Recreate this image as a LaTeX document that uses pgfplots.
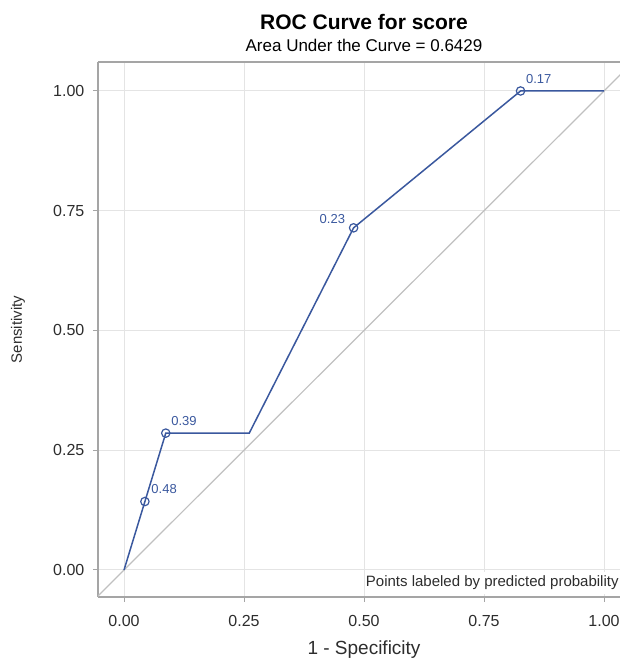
\documentclass[border=0pt]{standalone}
\usepackage{fontspec}
\setmainfont{Liberation Sans}
\usepackage{pgfplots}
\pgfplotsset{compat=1.18}
\usetikzlibrary{calc}

\definecolor{rocblue}{RGB}{58,88,158}
\definecolor{framegray}{RGB}{165,165,165}
\definecolor{gridgray}{RGB}{228,228,228}
\definecolor{diaggray}{RGB}{192,192,192}
\definecolor{textgray}{RGB}{45,45,45}

\begin{document}
\begin{tikzpicture}
\begin{axis}[
    scale only axis,
    width=261pt, height=267.5pt,
    xmin=-0.0542, xmax=1.0333,
    ymin=-0.0564, ymax=1.0605,
    axis x line=box, axis y line=left,
    axis line style={-, framegray, line width=0.6pt},
    xtick={0,0.25,0.5,0.75,1},
    ytick={0,0.25,0.5,0.75,1},
    xtick pos=left,
    tick align=outside,
    major tick length=2.5pt,
    tick style={framegray, line width=0.5pt},
    grid=major,
    major grid style={gridgray, line width=0.5pt},
    ticklabel style={font=\fontsize{8}{9}\selectfont, text=textgray},
    /pgf/number format/fixed,
    /pgf/number format/fixed zerofill,
    /pgf/number format/precision=2,
    /pgf/number format/assume math mode=true,
    xticklabel style={anchor=center, yshift=-9.5pt},
    yticklabel style={anchor=east, xshift=-0.8pt},
    xlabel={1 - Specificity},
    ylabel={Sensitivity},
    xlabel style={at={(rel axis cs:0.5096,-0.0953)}, anchor=center, yshift=-1pt,
        font=\fontsize{9.5}{10}\selectfont, text=textgray},
    ylabel style={at={(rel axis cs:-0.1533,0.5)}, anchor=center,
        font=\fontsize{7.5}{9}\selectfont, text=textgray},
]
% chance line
\addplot[diaggray, line width=0.6pt] coordinates {(-0.1,-0.1) (1.1,1.1)};
% ROC curve
\addplot[rocblue, line width=0.75pt] coordinates {
    (0,0) (0.0435,0.1429) (0.0870,0.2857) (0.2609,0.2857)
    (0.4783,0.7143) (0.8261,1.0) (1.0,1.0)
};
% labeled points
\addplot[only marks, mark=o, mark size=2.1pt, rocblue, line width=0.6pt,
    nodes near coords={0.48},
    nodes near coords style={anchor=south west, xshift=3pt, yshift=3.5pt,
        inner sep=0pt, font=\fontsize{6.5}{7}\selectfont, text=rocblue}]
    coordinates {(0.0435,0.1429)};
\addplot[only marks, mark=o, mark size=2.1pt, rocblue, line width=0.6pt,
    nodes near coords={0.39},
    nodes near coords style={anchor=south west, xshift=2.5pt, yshift=3.5pt,
        inner sep=0pt, font=\fontsize{6.5}{7}\selectfont, text=rocblue}]
    coordinates {(0.0870,0.2857)};
\addplot[only marks, mark=o, mark size=2.1pt, rocblue, line width=0.6pt,
    nodes near coords={0.23},
    nodes near coords style={anchor=south east, xshift=-4pt, yshift=2pt,
        inner sep=0pt, font=\fontsize{6.5}{7}\selectfont, text=rocblue}]
    coordinates {(0.4783,0.7143)};
\addplot[only marks, mark=o, mark size=2.1pt, rocblue, line width=0.6pt,
    nodes near coords={0.17},
    nodes near coords style={anchor=south west, xshift=2.5pt, yshift=3.5pt,
        inner sep=0pt, font=\fontsize{6.5}{7}\selectfont, text=rocblue}]
    coordinates {(0.8261,1.0)};

\node[anchor=east, fill=white, inner xsep=0.5pt, inner ysep=2pt,
    font=\fontsize{7.5}{8}\selectfont, text=textgray]
    at (rel axis cs:1,0.026) {Points labeled by predicted probability};

\coordinate (bl) at (rel axis cs:0,0);
\coordinate (tr) at (rel axis cs:1,1);
\coordinate (tc) at (rel axis cs:0.5096,1);
\end{axis}
\node[font=\bfseries\fontsize{10.5}{12}\selectfont, anchor=center]
    at ($(tc)+(0,20pt)$) {ROC Curve for score};
\node[font=\fontsize{8.5}{10}\selectfont, anchor=center]
    at ($(tc)+(0,8.5pt)$) {Area Under the Curve = 0.6429};
\pgfresetboundingbox
\path ($(bl)+(-49pt,-31pt)$) rectangle ($(tr)+(0pt,31pt)$);
\end{tikzpicture}
\end{document}
